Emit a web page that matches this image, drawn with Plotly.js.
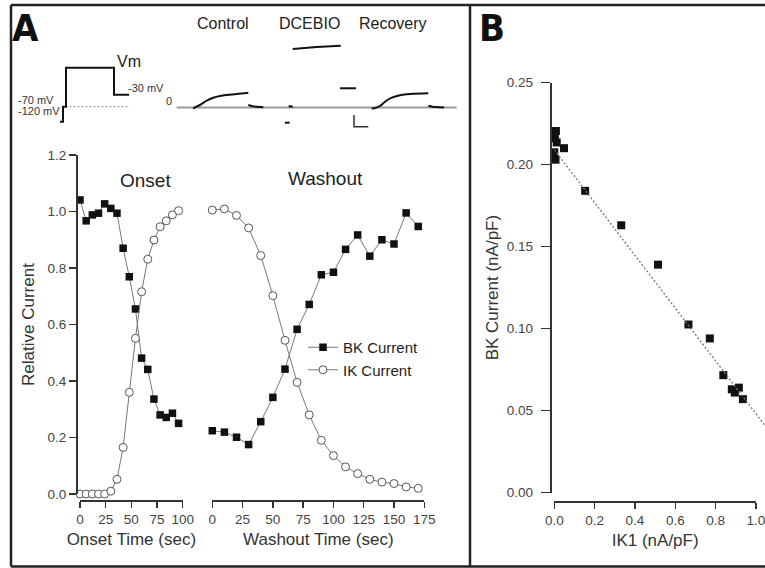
<!DOCTYPE html>
<html>
<head>
<meta charset="utf-8">
<script src="https://cdn.plot.ly/plotly-3.0.1.min.js"></script>
<style>html,body{margin:0;padding:0;background:#fff;}#chart{width:765px;height:568px;}</style>
</head>
<body>
<div id="chart"></div>
<script>
// ---------- Panel A : onset ----------
const onsetTime = [0, 6, 12, 18, 24, 30, 36, 42, 48, 54, 60, 66, 72, 78, 84, 90, 96];
const onsetBK = [1.041, 0.967, 0.988, 0.994, 1.027, 1.011, 0.994, 0.870, 0.769, 0.655, 0.481, 0.441, 0.336, 0.280, 0.271, 0.286, 0.250];
const onsetIK = [0, 0, 0, 0, 0, 0.010, 0.052, 0.165, 0.360, 0.551, 0.716, 0.831, 0.899, 0.946, 0.967, 0.988, 1.003];
// ---------- Panel A : washout ----------
const washTime = [0, 10, 20, 30, 40, 50, 60, 70, 80, 90, 100, 110, 120, 130, 140, 150, 160, 170];
const washBK = [0.224, 0.219, 0.201, 0.175, 0.256, 0.342, 0.442, 0.583, 0.671, 0.776, 0.785, 0.866, 0.917, 0.842, 0.900, 0.885, 0.995, 0.947];
const washIK = [1.005, 1.009, 0.986, 0.942, 0.844, 0.702, 0.544, 0.395, 0.280, 0.190, 0.136, 0.096, 0.072, 0.052, 0.042, 0.037, 0.025, 0.020];
const relTicks = [0, 0.2, 0.4, 0.6, 0.8, 1.0, 1.2];
const onsetTicks = [0, 25, 50, 75, 100];
const washTicks = [0, 25, 50, 75, 100, 125, 150, 175];
// ---------- Panel B ----------
const ik1 = [0.000, 0.008, 0.003, 0.012, 0.000, 0.006, 0.048, 0.153, 0.332, 0.514, 0.665, 0.771, 0.838, 0.880, 0.895, 0.915, 0.935];
const bkDensity = [0.2205, 0.2205, 0.2160, 0.2135, 0.2075, 0.2030, 0.2100, 0.1840, 0.1630, 0.1390, 0.1025, 0.0940, 0.0716, 0.0630, 0.0610, 0.0640, 0.0570];
const fitX = [0.0, 1.045];
const fitY = [0.209, 0.0408];
const bTicksY = [0, 0.05, 0.10, 0.15, 0.20, 0.25];
const bTicksX = [0, 0.2, 0.4, 0.6, 0.8, 1.0];
// ---------- Inset: voltage protocol (time units, mV) ----------
const protoTime = [0, 1, 1, 2, 2, 18, 18, 23];
const protoVolt = [-120, -120, -70, -70, 60, 60, -30, -30];
const holdTime = [0.5, 23.3];
const holdVolt = [-70, -70];
// ---------- Inset: current traces (time units, current units) ----------
const baseT = [0, 280];
const baseI = [0, 0];
const controlT = [16.6, 18.3, 23.3, 30, 36.6, 43.3, 50, 60, 71.6];
const controlI = [-1.2, 0.2, 2.5, 6.8, 9.8, 11.5, 12.5, 13.5, 14.8];
const controlTailT = [71.6, 76, 86.6];
const controlTailI = [2.5, 1.2, 0.3];
const dcebioBlipT = [112, 116];
const dcebioBlipI = [1.5, 0.8];
const dcebioLowT = [108.3, 113];
const dcebioLowI = [-15.2, -15.2];
const dcebioT = [116, 125, 140, 164];
const dcebioI = [58.5, 59.5, 60.5, 61.8];
const dcebioTailT = [163.3, 179.3];
const dcebioTailI = [19.2, 19.2];
const recoveryT = [195, 197.3, 203.3, 208.3, 215, 223.3, 233.3, 251.6];
const recoveryI = [-1, -0.8, 1.5, 5.8, 9.8, 12.2, 13.5, 14.2];
const recoveryTailT = [251.6, 256, 267.3];
const recoveryTailI = [1.8, 0.8, 0];
const scaleBarT = [177.3, 177.3, 191.6];
const scaleBarI = [-7.5, -19.2, -19.2];

const W = 765, H = 568;
const px = v => v / W;
const py = v => 1 - v / H;
const FONT = 'Liberation Sans, Arial, Helvetica, sans-serif';
const LETTER_FONT = 'Liberation Sans Narrow, Arial Narrow, DejaVu Sans Condensed, sans-serif';

const sqMarker = {symbol: 'square', size: 7.5, color: '#111', line: {width: 0}};
const ciMarker = {symbol: 'circle', size: 8, color: '#fff', line: {width: 1, color: '#555'}};
const connLine = {color: '#777', width: 1};

const traces = [
  {x: onsetTime, y: onsetBK, xaxis: 'x', yaxis: 'y', mode: 'lines+markers', name: 'BK Current', legendgroup: 'g', showlegend: false, marker: sqMarker, line: connLine, cliponaxis: false},
  {x: onsetTime, y: onsetIK, xaxis: 'x', yaxis: 'y', mode: 'lines+markers', name: 'IK Current', legendgroup: 'g', showlegend: false, marker: ciMarker, line: connLine, cliponaxis: false},
  {x: washTime, y: washBK, xaxis: 'x2', yaxis: 'y', mode: 'lines+markers', name: 'BK Current', legendgroup: 'g', showlegend: true, marker: sqMarker, line: connLine, cliponaxis: false},
  {x: washTime, y: washIK, xaxis: 'x2', yaxis: 'y', mode: 'lines+markers', name: 'IK Current', legendgroup: 'g', showlegend: true, marker: ciMarker, line: connLine, cliponaxis: false},
  {x: fitX, y: fitY, xaxis: 'x4', yaxis: 'y4', mode: 'lines', showlegend: false, line: {color: '#777', width: 1.3, dash: '2px,2px'}},
  {x: ik1, y: bkDensity, xaxis: 'x3', yaxis: 'y3', mode: 'markers', showlegend: false, marker: {symbol: 'square', size: 8, color: '#111'}, cliponaxis: false},
  // inset: protocol
  {x: holdTime, y: holdVolt, xaxis: 'x5', yaxis: 'y5', mode: 'lines', showlegend: false, line: {color: '#888', width: 1, dash: '2px,2px'}},
  {x: protoTime, y: protoVolt, xaxis: 'x5', yaxis: 'y5', mode: 'lines', showlegend: false, line: {color: '#111', width: 2}},
  // inset: currents
  {x: baseT, y: baseI, xaxis: 'x6', yaxis: 'y6', mode: 'lines', showlegend: false, line: {color: '#9a9a9a', width: 2}},
  {x: controlT, y: controlI, xaxis: 'x6', yaxis: 'y6', mode: 'lines', showlegend: false, line: {color: '#111', width: 2, shape: 'spline'}},
  {x: controlTailT, y: controlTailI, xaxis: 'x6', yaxis: 'y6', mode: 'lines', showlegend: false, line: {color: '#111', width: 2}},
  {x: dcebioBlipT, y: dcebioBlipI, xaxis: 'x6', yaxis: 'y6', mode: 'lines', showlegend: false, line: {color: '#111', width: 2}},
  {x: dcebioLowT, y: dcebioLowI, xaxis: 'x6', yaxis: 'y6', mode: 'lines', showlegend: false, line: {color: '#111', width: 2}},
  {x: dcebioT, y: dcebioI, xaxis: 'x6', yaxis: 'y6', mode: 'lines', showlegend: false, line: {color: '#111', width: 2}},
  {x: dcebioTailT, y: dcebioTailI, xaxis: 'x6', yaxis: 'y6', mode: 'lines', showlegend: false, line: {color: '#111', width: 2}},
  {x: recoveryT, y: recoveryI, xaxis: 'x6', yaxis: 'y6', mode: 'lines', showlegend: false, line: {color: '#111', width: 2, shape: 'spline'}},
  {x: recoveryTailT, y: recoveryTailI, xaxis: 'x6', yaxis: 'y6', mode: 'lines', showlegend: false, line: {color: '#111', width: 2}},
  {x: scaleBarT, y: scaleBarI, xaxis: 'x6', yaxis: 'y6', mode: 'lines', showlegend: false, line: {color: '#333', width: 1.5}}
];

const axBase = {
  showline: true, linecolor: '#333', linewidth: 2,
  ticks: 'outside', ticklen: 6, tickwidth: 1.5, tickcolor: '#333',
  showgrid: false, zeroline: false, fixedrange: true,
  ticklabeloverflow: 'allow',
  tickfont: {family: FONT, size: 13.5, color: '#444'}
};
const titleFont = {family: FONT, size: 17, color: '#333'};
const hidden = {visible: false, showgrid: false, zeroline: false, fixedrange: true};

function note(text, x, y, size, color, family) {
  return {text: text, x: px(x), y: py(y), xref: 'paper', yref: 'paper', xanchor: 'center', yanchor: 'middle',
    showarrow: false, font: {family: family || FONT, size: size, color: color || '#222'}};
}

const layout = {
  width: W, height: H,
  margin: {l: 0, r: 0, t: 0, b: 0},
  paper_bgcolor: '#fff', plot_bgcolor: 'rgba(0,0,0,0)',
  hovermode: false,
  font: {family: FONT},
  xaxis: Object.assign({}, axBase, {domain: [px(80), px(182.7)], range: [0, 100], tickvals: onsetTicks, anchor: 'free', position: py(501),
    title: {text: 'Onset Time (sec)', font: titleFont, standoff: 6}}),
  xaxis2: Object.assign({}, axBase, {domain: [px(212.3), px(424.3)], range: [0, 175], tickvals: washTicks, anchor: 'free', position: py(501),
    title: {text: 'Washout Time (sec)', font: titleFont, standoff: 6}}),
  yaxis: Object.assign({}, axBase, {domain: [py(494), py(155)], range: [0, 1.2], tickvals: relTicks, tickformat: '.1f', anchor: 'free', position: px(77),
    ticklen: 7, title: {text: 'Relative Current', font: titleFont, standoff: 8}}),
  xaxis3: Object.assign({}, axBase, {domain: [px(554.3), px(756)], range: [0, 1], tickvals: bTicksX, tickformat: '.1f', anchor: 'free', position: py(501.7),
    title: {text: 'IK1 (nA/pF)', font: titleFont, standoff: 6}}),
  yaxis3: Object.assign({}, axBase, {domain: [py(492.6), py(82.6)], range: [0, 0.25], tickvals: bTicksY, tickformat: '.2f', anchor: 'free', position: px(550.7),
    ticklen: 9, ticklabelstandoff: 5, title: {text: 'BK Current (nA/pF)', font: titleFont, standoff: 3}}),
  xaxis4: Object.assign({}, hidden, {domain: [px(554.3), 1], range: [0, (W - 554.3) / (756 - 554.3)], anchor: 'y4'}),
  yaxis4: Object.assign({}, hidden, {domain: [py(492.6), py(82.6)], range: [0, 0.25], anchor: 'x4'}),
  xaxis5: Object.assign({}, hidden, {domain: [px(57), px(132)], range: [-1, 24], anchor: 'y5'}),
  yaxis5: Object.assign({}, hidden, {domain: [py(130.7), py(58.7)], range: [-150, 90], anchor: 'x5'}),
  xaxis6: Object.assign({}, hidden, {domain: [px(170), px(462)], range: [-6.7, 285.3], anchor: 'y6'}),
  yaxis6: Object.assign({}, hidden, {domain: [py(130), py(40)], range: [-22.5, 67.5], anchor: 'x6'}),
  showlegend: true,
  legend: {x: px(303), y: py(331), xanchor: 'left', yanchor: 'top', bgcolor: 'rgba(0,0,0,0)', borderwidth: 0,
    font: {family: FONT, size: 15, color: '#222'}, tracegroupgap: 0, itemclick: false, itemdoubleclick: false},
  annotations: [
    note('<b>A</b>', 25, 28, 38, '#111', LETTER_FONT),
    note('<b>B</b>', 491.5, 28, 38, '#111', LETTER_FONT),
    note('Onset', 145, 180, 19),
    note('Washout', 325, 179, 19),
    note('Control', 222.5, 24, 16),
    note('DCEBIO', 309, 24, 16),
    note('Recovery', 393, 24, 16),
    note('Vm', 129, 61, 16),
    note('-30 mV', 146, 88, 11, '#333'),
    note('-70 mV', 35.5, 100, 11, '#333'),
    note('-120 mV', 38.5, 110.5, 11, '#333'),
    note('0', 169, 101, 11, '#333')
  ],
  shapes: [
    {type: 'line', xref: 'paper', yref: 'paper', x0: px(11), x1: 1, y0: py(5), y1: py(5), line: {color: '#222', width: 2.5}},
    {type: 'line', xref: 'paper', yref: 'paper', x0: px(11), x1: 1, y0: py(566.5), y1: py(566.5), line: {color: '#222', width: 2.5}},
    {type: 'line', xref: 'paper', yref: 'paper', x0: px(11), x1: px(11), y0: py(5), y1: py(566.5), line: {color: '#222', width: 2.5}},
    {type: 'line', xref: 'paper', yref: 'paper', x0: px(470), x1: px(470), y0: py(5), y1: py(566.5), line: {color: '#222', width: 2.5}}
  ]
};

Plotly.newPlot('chart', traces, layout, {staticPlot: true, displayModeBar: false});
</script>
</body>
</html>
